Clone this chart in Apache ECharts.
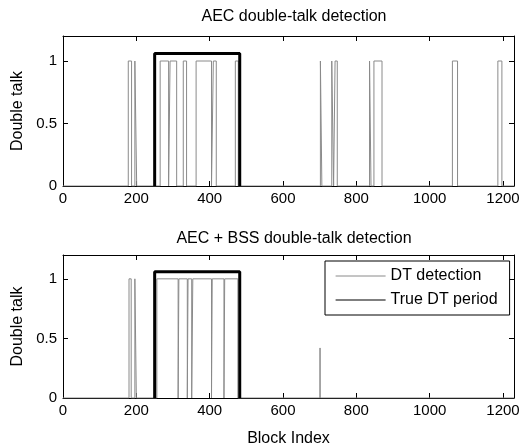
<!DOCTYPE html>
<html>
<head>
<meta charset="utf-8">
<script src="https://cdn.jsdelivr.net/npm/echarts@6/dist/echarts.min.js"></script>
<style>html,body{margin:0;padding:0;background:#fff}#c{width:526px;height:445px}</style>
</head>
<body>
<div id="c"></div>
<script>
// ---- data ----
var xTicks = [0, 200, 400, 600, 800, 1000, 1200];
var yTicks = [0, 0.5, 1];
var xMax = 1230;
var yMax = 1.2;
var titles = ['AEC double-talk detection', 'AEC + BSS double-talk detection'];
var seriesNames = ['DT detection', 'True DT period'];
var detectLevel = 1;
var trueLevel = 1.06;
var trueDT = [250, 482];
// detection pulses [start, end] in block index
var topPulses = [[178,187],[196,201],[265,288],[292,310],[328,337],[363,405],[410,418],[470,478],
                 [702,706],[733,738],[742,748],[836,840],[848,870],[1062,1076],[1186,1197]];
var bottomPulses = [[180,186],[196,200],[256,314],[316,339],[341,351],[354,405],[407,439],[441,477]];
var bottomSpikes = [[701, 0.42]];

function pulsePoints(pulses, spikes) {
  var ev = [];
  pulses.forEach(function (p) { ev.push({s: p[0], e: p[1], v: detectLevel}); });
  (spikes || []).forEach(function (p) { ev.push({s: p[0], e: p[0], v: p[1]}); });
  ev.sort(function (a, b) { return a.s - b.s; });
  var pts = [[0, 0]];
  ev.forEach(function (q) {
    pts.push([q.s, 0], [q.s, q.v], [q.e, q.v], [q.e, 0]);
  });
  pts.push([xMax, 0]);
  return pts;
}
var truePts = [[trueDT[0], 0], [trueDT[0], trueLevel], [trueDT[1], trueLevel], [trueDT[1], 0]];

var font = 'Liberation Sans, Arial, Helvetica, sans-serif';
var grids = [
  {left: 63, width: 451, top: 36, height: 150, outerBoundsMode: 'none', containLabel: false},
  {left: 63, width: 451, top: 255, height: 143, outerBoundsMode: 'none', containLabel: false}
];

var xAxes = [], yAxes = [], series = [], titleArr = [];
grids.forEach(function (g, i) {
  var showName = (i === 1);
  xAxes.push({
    type: 'value', gridIndex: i, min: 0, max: xMax, interval: 200, position: 'bottom',
    name: showName ? 'Block Index' : '', nameLocation: 'middle', nameGap: 33,
    nameTextStyle: {fontFamily: font, fontSize: 16, color: '#000'},
    axisLine: {show: true, onZero: false, lineStyle: {color: '#000', width: 1}},
    axisTick: {show: true, inside: true, length: 5, lineStyle: {color: '#000'}},
    axisLabel: {fontFamily: font, fontSize: 15, color: '#000', margin: 5,
      formatter: function (v) { return xTicks.indexOf(v) >= 0 ? String(v) : ''; }},
    splitLine: {show: false}
  });
  xAxes.push({
    type: 'value', gridIndex: i, min: 0, max: xMax, interval: 200, position: 'top',
    axisLine: {show: true, onZero: false, lineStyle: {color: '#000', width: 1}},
    axisTick: {show: true, inside: true, length: 5, lineStyle: {color: '#000'}},
    axisLabel: {show: false}, splitLine: {show: false}
  });
  yAxes.push({
    type: 'value', gridIndex: i, min: 0, max: yMax, interval: 0.5, position: 'left',
    name: 'Double talk', nameLocation: 'middle', nameGap: 36, nameRotate: 90,
    nameTextStyle: {fontFamily: font, fontSize: 16, color: '#000'},
    axisLine: {show: true, onZero: false, lineStyle: {color: '#000', width: 1}},
    axisTick: {show: true, inside: true, length: 5, lineStyle: {color: '#000'}},
    axisLabel: {fontFamily: font, fontSize: 15, color: '#000', margin: 6,
      formatter: function (v) { return yTicks.indexOf(v) >= 0 ? String(v) : ''; }},
    splitLine: {show: false}
  });
  yAxes.push({
    type: 'value', gridIndex: i, min: 0, max: yMax, interval: 0.5, position: 'right',
    axisLine: {show: true, onZero: false, lineStyle: {color: '#000', width: 1}},
    axisTick: {show: true, inside: true, length: 5, lineStyle: {color: '#000'}},
    axisLabel: {show: false}, splitLine: {show: false}
  });
  titleArr.push({
    text: titles[i], left: 289, textAlign: 'center', top: i === 0 ? 4 : 226,
    textStyle: {fontFamily: font, fontSize: 16, fontWeight: 'normal', color: '#000'}
  });
  series.push({
    name: seriesNames[0], type: 'line', xAxisIndex: 2 * i, yAxisIndex: 2 * i,
    data: i === 0 ? pulsePoints(topPulses) : pulsePoints(bottomPulses, bottomSpikes),
    symbol: 'none', lineStyle: {color: '#8a8a8a', width: 1}, itemStyle: {color: '#8a8a8a'}, z: 2
  });
  series.push({
    name: seriesNames[1], type: 'line', xAxisIndex: 2 * i, yAxisIndex: 2 * i,
    data: truePts, symbol: 'none', lineStyle: {color: '#000', width: 3}, itemStyle: {color: '#000'}, z: 3
  });
});

var chart = echarts.init(document.getElementById('c'), null, {renderer: 'canvas'});
chart.setOption({
  animation: false,
  backgroundColor: '#fff',
  title: titleArr,
  grid: grids,
  xAxis: xAxes,
  yAxis: yAxes,
  legend: {
    show: true,
    left: 325, top: 261, orient: 'vertical',
    backgroundColor: '#fff', borderColor: '#000', borderWidth: 1,
    padding: [7, 12, 7, 10], itemGap: 8, itemWidth: 50, itemHeight: 14,
    textStyle: {fontFamily: font, fontSize: 16, color: '#000'},
    data: [
      {name: seriesNames[0], itemStyle: {opacity: 0}, lineStyle: {color: '#8a8a8a', width: 1}},
      {name: seriesNames[1], itemStyle: {opacity: 0}, lineStyle: {color: '#000', width: 1.2}}
    ],
    z: 10
  },
  series: series
});
</script>
</body>
</html>
